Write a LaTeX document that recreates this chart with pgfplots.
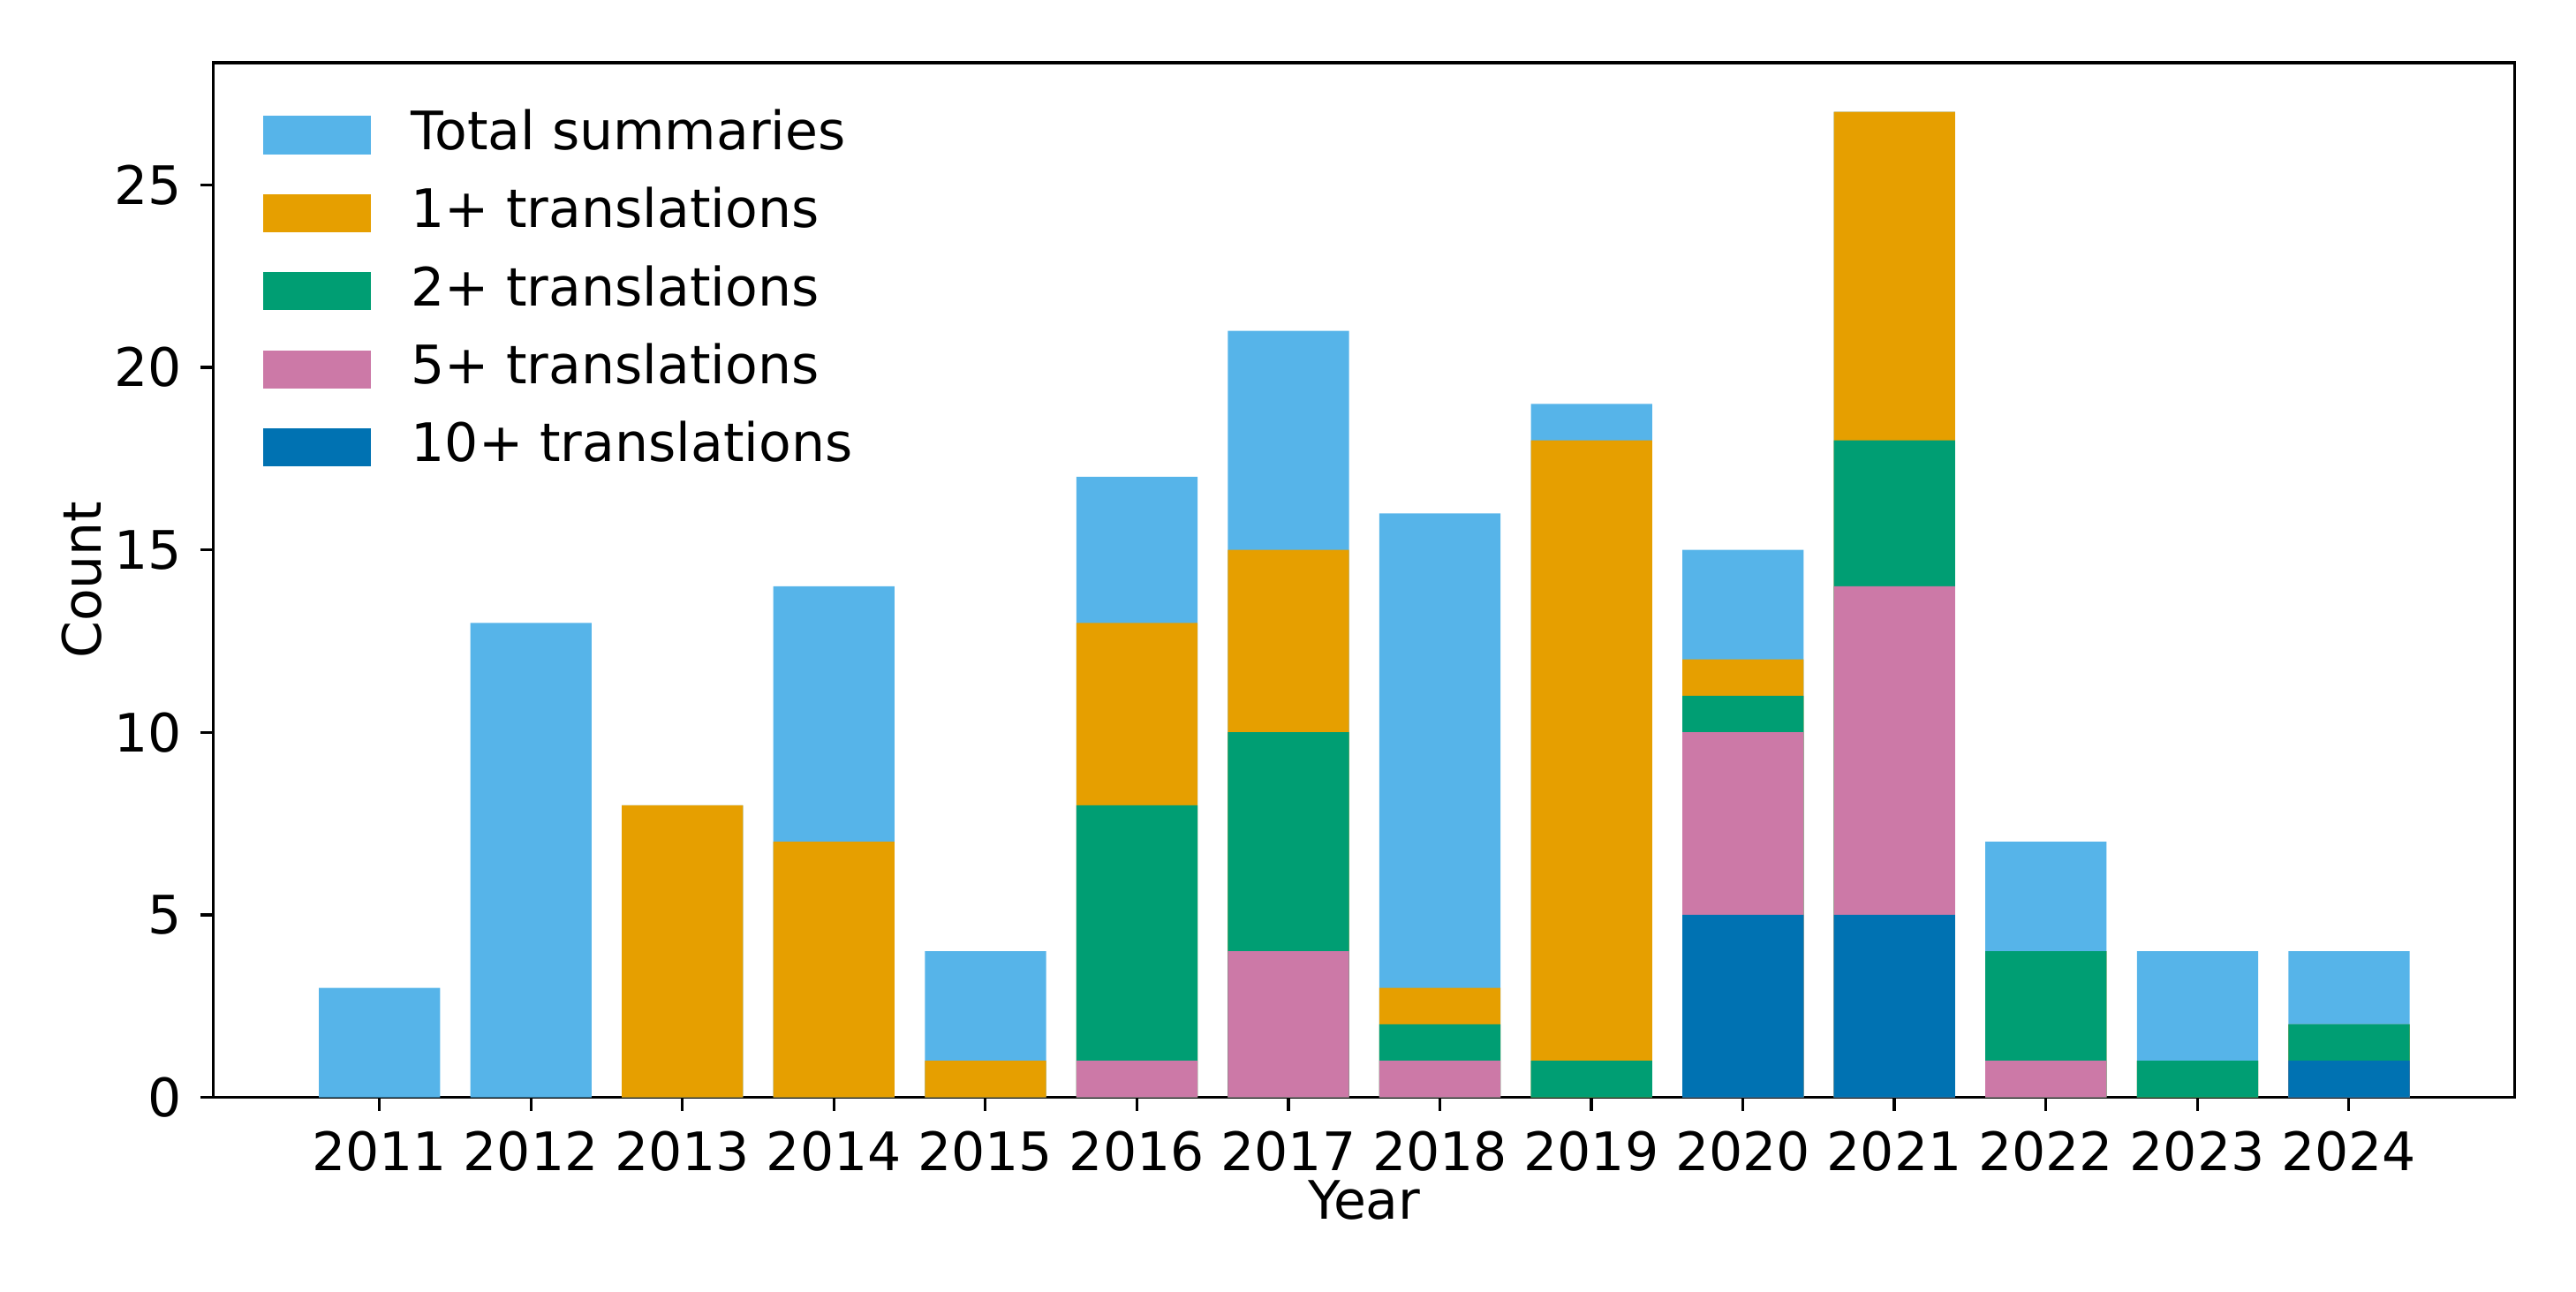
\documentclass[border=0pt]{standalone}
\usepackage{pgfplots}
\pgfplotsset{compat=1.18}
\usepackage{fontspec}
\setmainfont{DejaVu Sans}
\definecolor{ctot}{HTML}{56B4E9}
\definecolor{cone}{HTML}{E69F00}
\definecolor{ctwo}{HTML}{009E73}
\definecolor{cfive}{HTML}{CC79A7}
\definecolor{cten}{HTML}{0072B2}
\begin{document}
\fontsize{14.4}{17}\selectfont
\begin{tikzpicture}
\begin{axis}[
  scale only axis,
  width=625pt, height=281pt,
  xmin=2009.905, xmax=2025.095,
  ymin=0, ymax=28.35,
  xtick={2011,...,2024},
  ytick={0,5,10,15,20,25},
  xticklabel style={/pgf/number format/1000 sep={}},
  /pgf/number format/assume math mode=true,
  tick align=outside,
  tick pos=left,
  major tick length=3.6pt,
  tick style={black, line width=0.8pt},
  axis line style={line width=0.8pt},
  xlabel={Year}, ylabel={Count},
  x label style={at={(axis description cs:0.5,-0.0996)}, anchor=center},
  y label style={at={(axis description cs:-0.0571,0.5)}, anchor=center, rotate=0},
  xticklabel style={yshift=-0.5pt},
  legend cell align=left,
  legend style={at={(axis description cs:0,1)}, anchor=north west,
    xshift=10.3pt, yshift=-10.6pt, draw=none, fill=none,
    nodes={inner sep=0pt, text height=10.8pt, text depth=3pt},
    row sep=7.4pt,
    /tikz/every odd column/.style={column sep=11pt}},
  legend image code/.code={\fill[#1] (0pt,-5.2pt) rectangle (29.2pt,5.2pt);},
  every axis plot/.append style={ybar, bar width=0.8, bar shift=0pt, draw=none},
]
\addplot[fill=ctot] coordinates {(2011,3) (2012,13) (2013,8) (2014,14) (2015,4) (2016,17) (2017,21) (2018,16) (2019,19) (2020,15) (2021,27) (2022,7) (2023,4) (2024,4)};
\addlegendentry{Total summaries}
\addplot[fill=cone] coordinates {(2013,8) (2014,7) (2015,1) (2016,13) (2017,15) (2018,3) (2019,18) (2020,12) (2021,27) (2022,4) (2023,1) (2024,2)};
\addlegendentry{1+ translations}
\addplot[fill=ctwo] coordinates {(2016,8) (2017,10) (2018,2) (2019,1) (2020,11) (2021,18) (2022,4) (2023,1) (2024,2)};
\addlegendentry{2+ translations}
\addplot[fill=cfive] coordinates {(2016,1) (2017,4) (2018,1) (2020,10) (2021,14) (2022,1) (2024,1)};
\addlegendentry{5+ translations}
\addplot[fill=cten] coordinates {(2020,5) (2021,5) (2024,1)};
\addlegendentry{10+ translations}
\end{axis}
\path (current axis.south west) ++(-58pt,-52.8pt) coordinate (bbA);
\path (current axis.north east) ++(16.6pt,17pt) coordinate (bbB);
\path (bbA) rectangle (bbB);
\end{tikzpicture}
\end{document}
